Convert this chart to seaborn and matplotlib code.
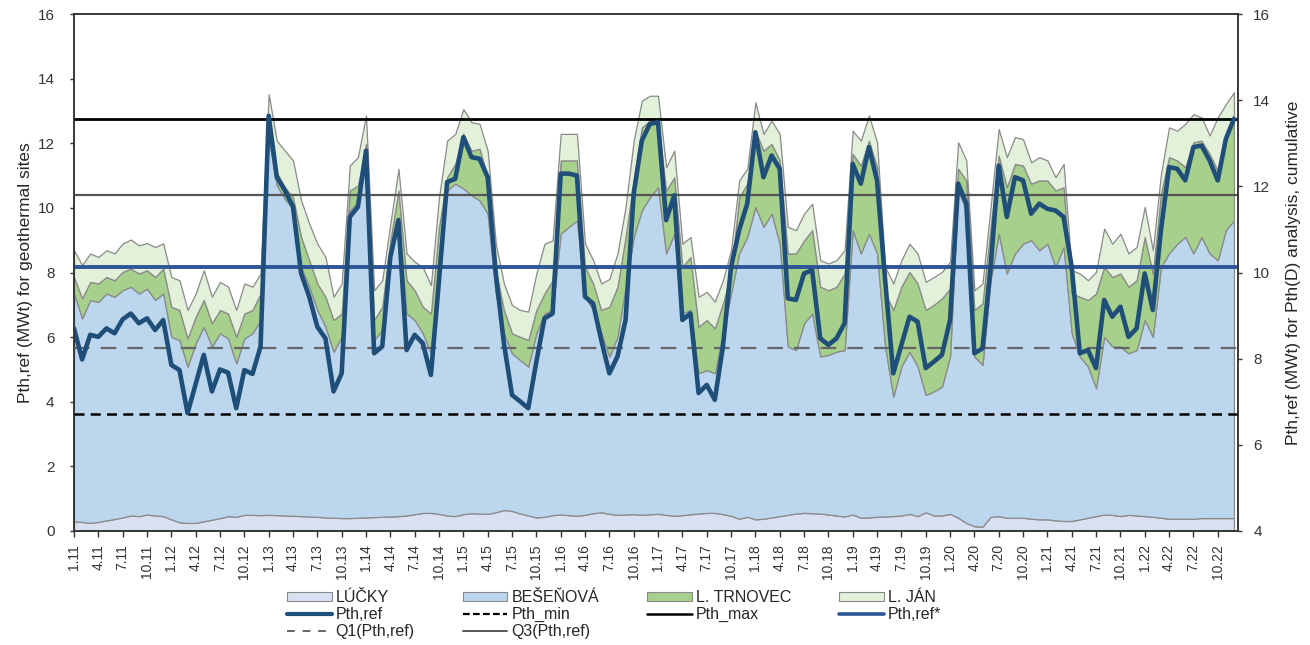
import numpy as np
import pandas as pd
import matplotlib
matplotlib.use("Agg")
import matplotlib.pyplot as plt
import seaborn as sns
from matplotlib.patches import Patch
from matplotlib.lines import Line2D

sns.set_theme(style="white")
plt.rcParams['font.family'] = ['Liberation Sans', 'DejaVu Sans']

# ---------------- data (monthly, 1.2011 - 12.2022) ----------------
tick_labels = ["1.11", "4.11", "7.11", "10.11", "1.12", "4.12", "7.12", "10.12",
               "1.13", "4.13", "7.13", "10.13", "1.14", "4.14", "7.14", "10.14",
               "1.15", "4.15", "7.15", "10.15", "1.16", "4.16", "7.16", "10.16",
               "1.17", "4.17", "7.17", "10.17", "1.18", "4.18", "7.18", "10.18",
               "1.19", "4.19", "7.19", "10.19", "1.20", "4.20", "7.20", "10.20",
               "1.21", "4.21", "7.21", "10.21", "1.22", "4.22", "7.22", "10.22"]

# cumulative tops of the stacked areas (MWt)
cum_lucky = [0.30, 0.28, 0.25, 0.28, 0.33, 0.37, 0.42, 0.48, 0.46, 0.51, 0.48, 0.46,
             0.36, 0.27, 0.25, 0.25, 0.30, 0.35, 0.40, 0.46, 0.44, 0.50, 0.50, 0.49,
             0.50, 0.49, 0.48, 0.47, 0.46, 0.45, 0.44, 0.42, 0.41, 0.40, 0.40, 0.41,
             0.42, 0.43, 0.44, 0.45, 0.46, 0.48, 0.52, 0.56, 0.56, 0.53, 0.48, 0.46,
             0.52, 0.55, 0.54, 0.53, 0.58, 0.65, 0.62, 0.54, 0.48, 0.42, 0.44, 0.49,
             0.51, 0.49, 0.47, 0.50, 0.55, 0.58, 0.53, 0.50, 0.51, 0.52, 0.50, 0.52,
             0.53, 0.50, 0.47, 0.49, 0.52, 0.54, 0.56, 0.56, 0.52, 0.47, 0.38, 0.44,
             0.36, 0.38, 0.42, 0.46, 0.50, 0.54, 0.56, 0.55, 0.54, 0.51, 0.48, 0.45,
             0.51, 0.41, 0.42, 0.44, 0.45, 0.46, 0.48, 0.53, 0.46, 0.58, 0.48, 0.48,
             0.53, 0.41, 0.25, 0.15, 0.13, 0.44, 0.46, 0.41, 0.41, 0.41, 0.38, 0.36,
             0.36, 0.33, 0.31, 0.31, 0.36, 0.41, 0.46, 0.51, 0.50, 0.46, 0.50, 0.48,
             0.46, 0.44, 0.41, 0.38, 0.38, 0.38, 0.38, 0.40, 0.40, 0.40, 0.40, 0.40]

cum_besenova = [7.35, 6.58, 7.15, 7.09, 7.35, 7.25, 7.45, 7.56, 7.35, 7.50, 7.15, 7.35,
                6.01, 5.91, 5.09, 5.81, 6.32, 5.71, 6.12, 5.96, 5.19, 5.96, 6.12, 6.53,
                12.15, 10.70, 10.28, 9.97, 8.17, 7.56, 6.84, 6.32, 5.55, 6.01, 9.92, 10.18,
                11.57, 5.91, 6.22, 8.59, 9.72, 6.73, 6.53, 6.12, 5.50, 8.59, 10.54, 10.75,
                10.60, 10.39, 10.23, 9.82, 7.35, 6.12, 5.50, 5.29, 5.09, 6.12, 6.73, 6.84,
                9.20, 9.41, 9.61, 7.25, 6.84, 6.12, 5.40, 6.01, 7.56, 9.10, 9.92, 10.33,
                10.64, 8.59, 9.20, 6.73, 6.84, 4.88, 4.98, 4.88, 6.12, 7.35, 8.59, 9.10,
                10.03, 9.41, 9.82, 8.89, 5.71, 5.60, 6.43, 6.73, 5.40, 5.45, 5.55, 5.60,
                9.31, 8.59, 9.20, 8.59, 5.71, 4.16, 5.09, 5.55, 5.09, 4.21, 4.32, 4.47,
                5.40, 10.54, 9.92, 5.40, 5.14, 7.76, 9.20, 7.97, 8.59, 8.89, 9.00, 8.69,
                8.89, 8.17, 8.79, 6.12, 5.40, 5.09, 4.42, 6.01, 5.71, 5.71, 5.50, 5.60,
                6.53, 6.01, 8.17, 8.59, 8.89, 9.10, 8.59, 9.10, 8.59, 8.38, 9.31, 9.61]

cum_trnovec = [7.86, 7.20, 7.71, 7.66, 7.86, 7.76, 8.02, 8.12, 7.97, 8.07, 7.86, 8.12,
               6.94, 6.84, 5.96, 6.63, 7.15, 6.43, 6.84, 6.73, 6.01, 6.73, 6.84, 7.35,
               12.80, 11.10, 10.64, 10.33, 9.10, 8.38, 7.66, 7.25, 6.53, 6.73, 10.54, 10.69,
               11.98, 6.53, 6.94, 8.99, 10.54, 7.76, 7.45, 6.94, 6.73, 9.41, 10.95, 11.36,
               12.30, 11.77, 11.83, 10.95, 8.07, 6.84, 6.12, 6.01, 5.91, 6.84, 7.35, 7.76,
               11.47, 11.47, 11.47, 8.17, 7.66, 6.84, 6.94, 7.56, 9.10, 10.85, 12.49, 12.70,
               12.70, 10.54, 10.95, 8.17, 8.48, 6.32, 6.53, 6.27, 7.04, 7.97, 10.33, 10.75,
               12.39, 11.77, 11.98, 11.47, 8.59, 8.59, 8.99, 9.31, 7.56, 7.45, 7.56, 7.97,
               11.67, 11.31, 12.08, 11.26, 7.35, 6.84, 7.56, 8.02, 7.66, 6.84, 7.00, 7.20,
               7.50, 11.21, 10.85, 6.84, 7.04, 9.41, 11.62, 10.64, 11.36, 11.31, 10.75, 10.85,
               10.85, 10.54, 10.64, 7.35, 7.25, 7.15, 7.35, 8.17, 7.86, 7.97, 7.56, 7.76,
               9.10, 7.97, 10.44, 11.57, 11.47, 11.26, 12.03, 12.08, 11.67, 11.15, 12.29, 12.90]

cum_jan = [8.69, 8.23, 8.59, 8.48, 8.69, 8.59, 8.90, 9.02, 8.84, 8.91, 8.79, 8.90,
           7.86, 7.76, 6.84, 7.35, 8.07, 7.25, 7.71, 7.56, 6.84, 7.66, 7.56, 7.97,
           13.52, 12.08, 11.77, 11.47, 10.23, 9.51, 8.89, 8.48, 7.25, 7.66, 11.31, 11.57,
           12.86, 7.45, 7.76, 9.51, 11.21, 8.59, 8.33, 8.17, 7.61, 10.33, 12.08, 12.29,
           13.06, 12.65, 12.60, 11.77, 8.89, 7.66, 6.99, 6.84, 6.79, 7.97, 8.89, 8.99,
           12.29, 12.29, 12.29, 8.89, 8.38, 7.66, 7.80, 8.59, 10.03, 12.08, 13.32, 13.47,
           13.47, 11.26, 11.77, 8.89, 9.10, 7.25, 7.40, 7.10, 7.76, 8.69, 10.85, 11.21,
           13.27, 12.29, 12.70, 12.29, 9.41, 9.31, 9.82, 10.13, 8.38, 8.28, 8.38, 8.69,
           12.39, 12.08, 12.86, 12.03, 8.17, 7.66, 8.38, 8.89, 8.59, 7.71, 7.86, 8.02,
           8.33, 12.03, 11.47, 7.45, 7.66, 10.03, 12.44, 11.57, 12.19, 12.13, 11.41, 11.57,
           11.47, 10.95, 11.36, 8.07, 7.97, 7.76, 8.02, 9.36, 8.89, 9.20, 8.59, 8.79,
           10.03, 8.69, 11.05, 12.49, 12.39, 12.60, 12.90, 12.80, 12.24, 12.80, 13.21, 13.58]

pth_ref = [6.27, 5.31, 6.07, 6.01, 6.27, 6.12, 6.55, 6.73, 6.43, 6.58, 6.22, 6.53,
           5.14, 4.98, 3.65, 4.55, 5.45, 4.32, 5.00, 4.90, 3.80, 4.98, 4.86, 5.71,
           12.85, 10.95, 10.54, 10.03, 7.97, 7.25, 6.32, 5.96, 4.32, 4.88, 9.72, 10.03,
           11.77, 5.50, 5.71, 8.48, 9.62, 5.60, 6.07, 5.81, 4.83, 7.76, 10.80, 10.90,
           12.19, 11.57, 11.52, 10.95, 7.97, 5.81, 4.21, 4.01, 3.80, 5.24, 6.58, 6.73,
           11.06, 11.06, 11.00, 7.25, 7.04, 5.91, 4.88, 5.40, 6.53, 10.44, 12.08, 12.60,
           12.65, 9.62, 10.39, 6.53, 6.73, 4.27, 4.52, 4.06, 5.71, 8.17, 9.31, 10.13,
           12.34, 10.95, 11.62, 11.21, 7.20, 7.15, 7.97, 8.07, 5.96, 5.76, 5.96, 6.43,
           11.36, 10.75, 11.88, 10.85, 7.76, 4.88, 5.76, 6.63, 6.48, 5.04, 5.24, 5.45,
           6.53, 10.75, 10.13, 5.50, 5.65, 8.17, 11.31, 9.72, 10.95, 10.85, 9.82, 10.13,
           9.97, 9.92, 9.72, 8.17, 5.50, 5.60, 5.04, 7.15, 6.63, 6.94, 6.01, 6.27,
           7.97, 6.84, 9.31, 11.26, 11.21, 10.85, 11.88, 11.93, 11.47, 10.85, 12.13, 12.75]

pth_min = 3.62
pth_max = 12.75
pth_ref_star = 8.17
q1_pth_ref = 5.65
q3_pth_ref = 10.39

# ---------------- figure ----------------
months = np.arange(len(pth_ref))
df = pd.DataFrame({"month": months, "pth_ref": pth_ref})

c_lucky = "#d9e0f2"
c_bes = "#bcd6ee"
c_trn = "#a6d08b"
c_jan = "#e3f0da"
edge = "#8a8a8a"
txt = "#262626"

fig = plt.figure(figsize=(13.1, 6.45), dpi=100)
ax = fig.add_axes([74 / 1310, 1 - 531 / 645, (1238 - 74) / 1310, (531 - 14) / 645])

ax.fill_between(months, 0, cum_lucky, facecolor=c_lucky, edgecolor=edge, lw=0.9, zorder=1)
ax.fill_between(months, cum_lucky, cum_besenova, facecolor=c_bes, edgecolor=edge, lw=0.9, zorder=1)
ax.fill_between(months, cum_besenova, cum_trnovec, facecolor=c_trn, edgecolor=edge, lw=0.9, zorder=1)
ax.fill_between(months, cum_trnovec, cum_jan, facecolor=c_jan, edgecolor=edge, lw=0.9, zorder=1)

ax.axhline(pth_min, color="black", lw=1.8, ls=(0, (4, 2.5)), zorder=3)
ax.axhline(pth_max, color="black", lw=2.0, zorder=3)
ax.axhline(pth_ref_star, color="#2e5597", lw=2.8, zorder=3)
ax.axhline(q1_pth_ref, color="#666666", lw=1.6, ls=(0, (7, 5)), zorder=3)
ax.axhline(q3_pth_ref, color="#555555", lw=1.6, zorder=3)

sns.lineplot(data=df, x="month", y="pth_ref", ax=ax, color="#1f4e79", lw=3.3,
             zorder=5, solid_joinstyle="round")

ax.set_xlim(0, 143.5)
ax.set_ylim(0, 16)
ax.set_yticks(np.arange(0, 17, 2))
ax.set_xticks(np.arange(0, 144, 3))
ax.set_xticklabels(tick_labels, rotation=90)
ax.set_xlabel("")
ax.set_ylabel("Pth,ref (MWt) for geothermal sites", fontsize=12.5, color=txt, labelpad=3)
ax.tick_params(axis="x", bottom=True, direction="out", length=4.5, width=1,
               labelsize=10, pad=5, colors="#333333")
ax.tick_params(axis="y", left=True, direction="out", length=3, width=1,
               labelsize=11, pad=11, colors="#333333")
for s in ax.spines.values():
    s.set_color("#333333")
    s.set_linewidth(1.1)

ax2 = ax.twinx()
ax2.set_ylim(4, 16)
ax2.set_yticks(np.arange(4, 17, 2))
ax2.tick_params(axis="y", right=True, direction="out", length=3, width=1,
                labelsize=11, pad=8, colors="#333333")
ax2.set_ylabel("Pth,ref (MWt) for Pth(D) analysis, cumulative", fontsize=12.5,
               color=txt, labelpad=11)
for s in ax2.spines.values():
    s.set_color("#333333")
    s.set_linewidth(1.1)
ax2.grid(False)

handles = [
    Patch(facecolor=c_lucky, edgecolor=edge, lw=0.8),
    Patch(facecolor=c_bes, edgecolor=edge, lw=0.8),
    Patch(facecolor=c_trn, edgecolor=edge, lw=0.8),
    Patch(facecolor=c_jan, edgecolor=edge, lw=0.8),
    Line2D([], [], color="#1f4e79", lw=3),
    Line2D([], [], color="black", lw=1.6, ls=(0, (3, 1.5))),
    Line2D([], [], color="black", lw=1.8),
    Line2D([], [], color="#2e5597", lw=2.6),
    Line2D([], [], color="#666666", lw=1.4, ls=(0, (4, 4))),
    Line2D([], [], color="#555555", lw=1.4),
]
labels = ["LÚČKY", "BEŠEŇOVÁ", "L. TRNOVEC", "L. JÁN",
          "Pth,ref", "Pth_min", "Pth_max", "Pth,ref*",
          "Q1(Pth,ref)", "Q3(Pth,ref)"]
# column-major order so that rows read as in the reference
order = [0, 4, 8, 1, 5, 9, 2, 6, 3, 7]
leg = fig.legend([handles[i] for i in order], [labels[i] for i in order],
                 loc="upper left", bbox_to_anchor=(287 / 1310, 1 - 590 / 645), ncol=4,
                 frameon=False, fontsize=11.5, handlelength=2.8, handleheight=0.55,
                 handletextpad=0.25, columnspacing=3.0, labelspacing=0.12,
                 borderpad=0.0, borderaxespad=0.0)
for t in leg.get_texts():
    t.set_color(txt)

fig.savefig("out.png", dpi=100)
